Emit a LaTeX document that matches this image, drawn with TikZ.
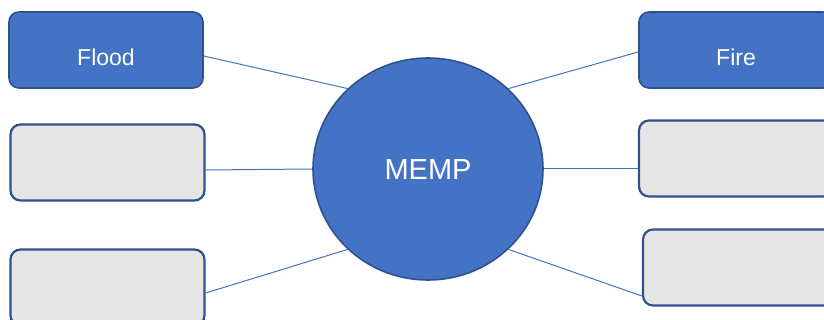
\documentclass[tikz,border=0pt]{standalone}
\usepackage{fontspec}
\setmainfont{Liberation Sans}
\usetikzlibrary{shapes.geometric}
\definecolor{accent}{HTML}{4472C4}
\definecolor{edge}{HTML}{2F528F}
\definecolor{greyfill}{HTML}{E5E5E5}
\tikzset{
  box/.style={draw=edge, rounded corners=10pt, minimum width=194pt, minimum height=76pt, inner sep=0pt},
  bluebox/.style={box, fill=accent, line width=1.6pt},
  greybox/.style={box, fill=greyfill, line width=2.2pt},
  lbl/.style={text=white, font=\fontsize{23}{27}\selectfont, inner sep=0pt},
  conn/.style={draw=accent, line width=1pt},
}
\begin{document}
\begin{tikzpicture}[x=1pt,y=-1pt]
\useasboundingbox (0,0) rectangle (824,320);
\clip (0,0) rectangle (824,320);
% boxes
\node[bluebox] (flood) at (106,50) {};
\node[lbl, anchor=base] (floodt) at (106,66) {Flood};
\node[greybox] (ml) at (107.5,162.5) {};
\node[greybox] (bl) at (107.5,287.5) {};
\node[bluebox] (fire) at (736,50) {};
\node[lbl, anchor=base] (firet) at (736,66) {Fire};
\node[greybox] (mr) at (736,158.5) {};
\node[greybox] (br) at (740,267.5) {};
% centre
\node[ellipse, draw=edge, fill=accent, line width=1.6pt, minimum width=230pt, minimum height=222pt, inner sep=0pt] (c) at (428,169) {};
\node[text=white, font=\fontsize{29}{33}\selectfont, inner sep=0pt, anchor=base] (ct) at (428,180) {MEMP};
% connectors
\draw[conn] ([yshift=-6pt]flood.east) -- (c.135);
\draw[conn] ([yshift=-7.5pt]ml.east) -- (c.180);
\draw[conn] ([yshift=-5.5pt]bl.east) -- (c.225);
\draw[conn] ([yshift=-2pt]fire.west) -- (c.45);
\draw[conn] ([yshift=-10.5pt]mr.west) -- (c.0);
\draw[conn] ([yshift=-28.5pt]br.west) -- (c.-45);
\end{tikzpicture}
\end{document}
